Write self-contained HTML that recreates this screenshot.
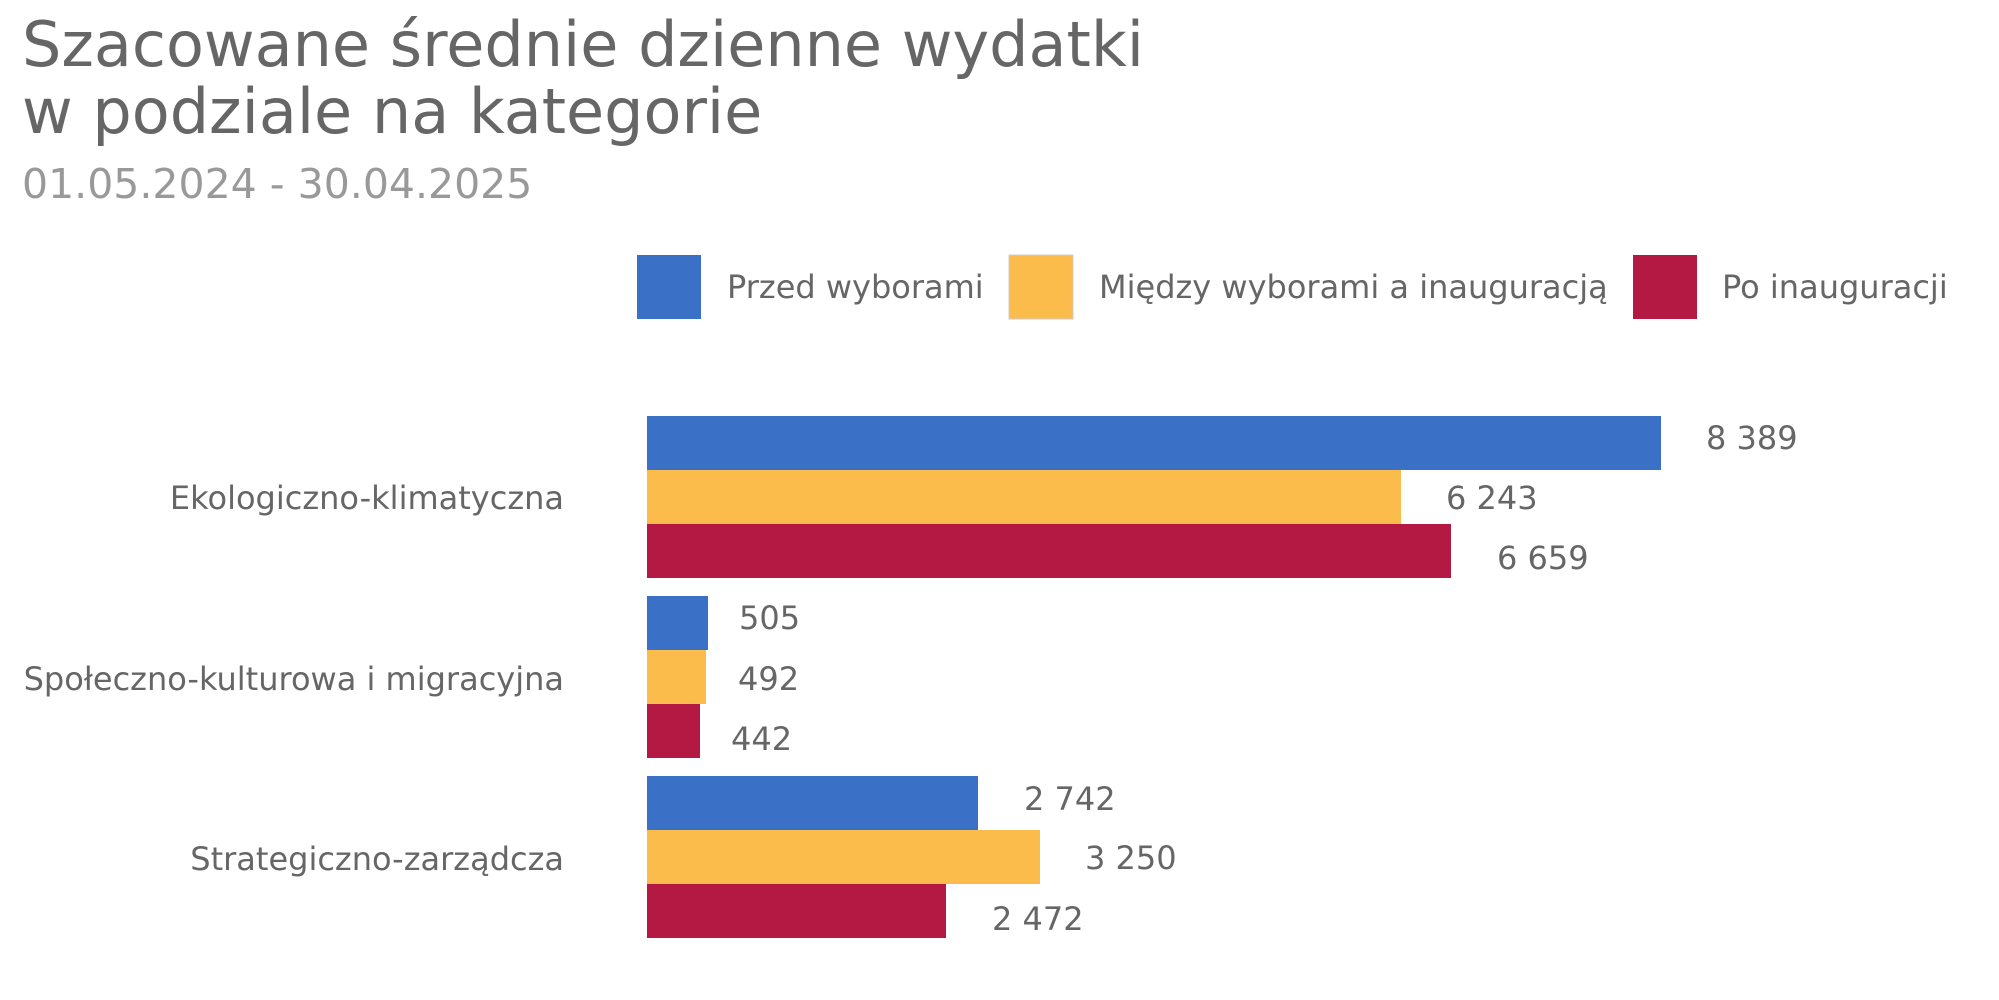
<!DOCTYPE html>
<html><head><meta charset="utf-8"><style>
html,body{margin:0;padding:0;background:#fff;}
svg{display:block;font-family:"DejaVu Sans","Liberation Sans",sans-serif;}
</style></head><body>
<svg width="1999" height="1000" viewBox="0 0 1999 1000">
<text x="22" y="66" font-size="62" fill="#666">Szacowane średnie dzienne wydatki</text>
<text x="22" y="133" font-size="62" fill="#666">w podziale na kategorie</text>
<text x="22" y="198" font-size="41" fill="#999">01.05.2024 - 30.04.2025</text>

<rect x="637" y="255" width="64" height="64" fill="#3a70c6"/>
<text x="727" y="298" font-size="32" fill="#666">Przed wyborami</text>
<rect x="1009" y="255" width="64" height="64" fill="#fbbc4c" stroke="#ccc" stroke-width="1"/>
<text x="1099" y="298" font-size="32" fill="#666">Między wyborami a inauguracją</text>
<rect x="1633" y="255" width="64" height="64" fill="#b31942"/>
<text x="1722" y="298" font-size="32" fill="#666">Po inauguracji</text>

<g font-size="32" fill="#666" text-anchor="end">
<text x="564" y="509">Ekologiczno-klimatyczna</text>
<text x="564" y="690">Społeczno-kulturowa i migracyjna</text>
<text x="564" y="870">Strategiczno-zarządcza</text>
</g>

<rect x="647" y="416" width="1014" height="54" fill="#3a70c6"/>
<rect x="647" y="470" width="754" height="54" fill="#fbbc4c"/>
<rect x="647" y="524" width="804" height="54" fill="#b31942"/>
<rect x="647" y="596" width="61" height="54" fill="#3a70c6"/>
<rect x="647" y="650" width="59" height="54" fill="#fbbc4c"/>
<rect x="647" y="704" width="53" height="54" fill="#b31942"/>
<rect x="647" y="776" width="331" height="54" fill="#3a70c6"/>
<rect x="647" y="830" width="393" height="54" fill="#fbbc4c"/>
<rect x="647" y="884" width="299" height="54" fill="#b31942"/>

<g font-size="32" fill="#666">
<text x="1706" y="449">8 389</text>
<text x="1446" y="509">6 243</text>
<text x="1497" y="569">6 659</text>
<text x="739" y="629">505</text>
<text x="738" y="690">492</text>
<text x="731" y="750">442</text>
<text x="1024" y="810">2 742</text>
<text x="1085" y="869">3 250</text>
<text x="992" y="930">2 472</text>
</g>
</svg>
</body></html>
